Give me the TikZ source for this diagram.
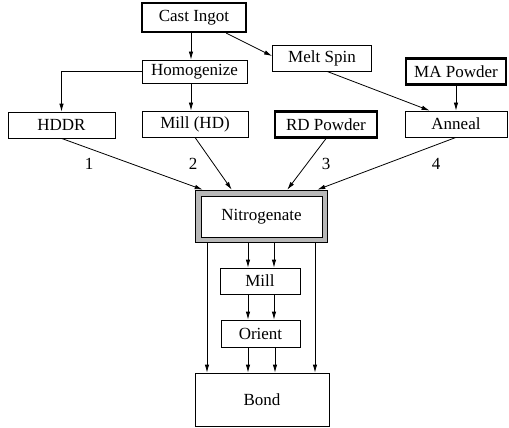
\documentclass[tikz,border=0pt]{standalone}
\usepackage{fontspec}
\setmainfont{Liberation Serif}
\usetikzlibrary{calc,arrows.meta}
\begin{document}
\begin{tikzpicture}[x=1pt,y=-1pt,
  box/.style={draw,line width=0.8pt,rectangle,inner sep=0pt,font=\fontsize{17}{20}\selectfont},
  thickbox/.style={box,line width=2.2pt},
  arr/.style={line width=0.8pt,-{Latex[length=8pt,width=4.5pt]}},
  lbl/.style={font=\fontsize{17}{20}\selectfont,inner sep=0pt}]
\useasboundingbox (0,0) rectangle (509,428);
\node[thickbox,minimum width=104pt,minimum height=29pt] (ci) at (194,17.5) {Cast Ingot};
\node[box,minimum width=105pt,minimum height=23pt] (hom) at (194.5,71.5) {Homogenize};
\node[box,minimum width=99pt,minimum height=26pt] (ms) at (322,58) {Melt Spin};
\node[thickbox,minimum width=100pt,minimum height=26pt] (ma) at (456,71.5) {MA Powder};
\node[box,minimum width=107pt,minimum height=26pt] (hddr) at (61.5,125) {HDDR};
\node[box,minimum width=106pt,minimum height=26pt] (mhd) at (195,124) {Mill (HD)};
\node[thickbox,minimum width=102pt,minimum height=26pt] (rd) at (326,124.5) {RD Powder};
\node[box,minimum width=102pt,minimum height=26pt] (an) at (456,124) {Anneal};
% Nitrogenate with textured border
\node[draw,line width=0.6pt,fill=black!28,minimum width=132pt,minimum height=52pt,inner sep=0pt] (nit) at (261,216) {};
\node[box,fill=white,minimum width=121pt,minimum height=41pt] (nitin) at (261.5,216.5) {Nitrogenate};
\node[box,minimum width=80pt,minimum height=26pt] (mill) at (260,281) {Mill};
\node[box,minimum width=79pt,minimum height=27pt] (or) at (260.5,333.5) {Orient};
\node[box,minimum width=134pt,minimum height=53pt] (bond) at (262,399.5) {Bond};
% top connectors
\draw[arr] ($(ci.south)+(-3,0)$) -- ($(hom.north)+(-3.5,0)$);
\draw[arr] ($(ci.south east)+(-21,0)$) -- ($(ms.west)+(0,-2)$);
\draw[arr] ($(ms.south)+(5,0)$) -- ($(an.north west)+(25,0)$);
\draw[arr] (ma.south) -- (an.north);
\draw[arr] (hom.west) -- (hom.west -| hddr.north) -- (hddr.north);
\draw[arr] ($(hom.south)+(-3.5,0)$) -- ($(mhd.north)+(-4,0)$);
% into nitrogenate
\draw[arr] (hddr.south) -- ($(nit.north west)+(8,0)$);
\draw[arr] (mhd.south) -- ($(nit.north west)+(37,0)$);
\draw[arr] (rd.south) -- ($(nit.north east)+(-40,0)$);
\draw[arr] (an.south) -- ($(nit.north east)+(-10,0)$);
\node[lbl] (l1) at (89,164) {1};
\node[lbl] (l2) at (193,164) {2};
\node[lbl] (l3) at (326,164) {3};
\node[lbl] (l4) at (436,164) {4};
% below
\draw[arr] ($(nit.south)+(-13,0)$) -- ($(mill.north)+(-12,0)$);
\draw[arr] ($(nit.south)+(13,0)$) -- ($(mill.north)+(14,0)$);
\draw[arr] ($(mill.south)+(-12,0)$) -- ($(or.north)+(-12.5,0)$);
\draw[arr] ($(mill.south)+(14,0)$) -- ($(or.north)+(13.5,0)$);
\draw[arr] ($(or.south)+(-12.5,0)$) -- ($(bond.north)+(-14,0)$);
\draw[arr] ($(or.south)+(14.5,0)$) -- ($(bond.north)+(13,0)$);
\draw[arr] ($(nit.south)+(-54,0)$) -- ($(bond.north)+(-55,0)$);
\draw[arr] ($(nit.south)+(54,0)$) -- ($(bond.north)+(53,0)$);
\end{tikzpicture}
\end{document}
